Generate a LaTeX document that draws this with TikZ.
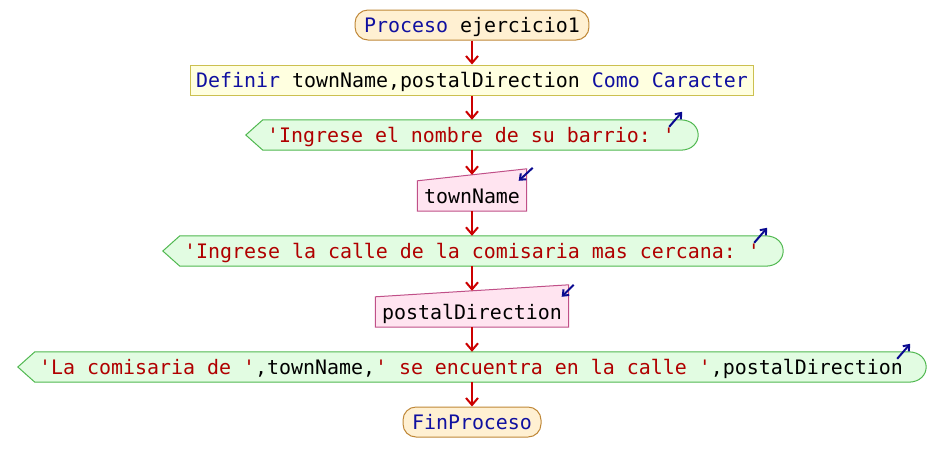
\documentclass[tikz,border=0pt]{standalone}
\usepackage{fontspec}
\setmonofont{DejaVu Sans Mono}
\usetikzlibrary{arrows.meta,backgrounds}

\definecolor{kw}{HTML}{1010A0}
\definecolor{str}{HTML}{B00000}
\definecolor{flowred}{HTML}{CC0000}
\definecolor{termfill}{HTML}{FFF0D2}
\definecolor{termline}{HTML}{C08838}
\definecolor{deffill}{HTML}{FFFFE0}
\definecolor{defline}{HTML}{CCC050}
\definecolor{outfill}{HTML}{E2FCE2}
\definecolor{outline}{HTML}{50B850}
\definecolor{infill}{HTML}{FFE4F0}
\definecolor{inline}{HTML}{C05088}
\definecolor{ioarrow}{HTML}{0A0A90}

\tikzset{
  code/.style={font=\ttfamily\fontsize{19.93}{24}\selectfont,
    text height=16pt, text depth=2pt, minimum height=30pt,
    inner ysep=0pt, inner xsep=0pt, anchor=center},
  termbox/.style={code, draw=termline, fill=termfill, line width=1pt,
    rounded corners=13pt, inner xsep=9pt},
  defbox/.style={code, draw=defline, fill=deffill, line width=1pt, inner xsep=6pt},
  inbox/.style={code, inner xsep=6.5pt},
  outshape/.style={draw=outline, fill=outfill, line width=1pt},
  inshape/.style={draw=inline, fill=infill, line width=1pt},
  flow/.style={draw=flowred, line width=2pt,
    -{Straight Barb[length=7pt,width=12pt]}},
  iomark/.style={draw=ioarrow, line width=2pt,
    -{Straight Barb[length=5pt,width=8pt]}}
}

\newcommand{\kwd}[1]{\textcolor{kw}{#1}}
\newcommand{\str}[1]{\textcolor{str}{#1}}

\begin{document}
\begin{tikzpicture}[x=1pt,y=-1pt]
\useasboundingbox (0,0) rectangle (944,472);

% process start and definitions
\node[termbox] (n0) at (472,25) {\kwd{Proceso} ejercicio1};
\node[defbox] (n1) at (472,80) {\kwd{Definir} townName,postalDirection \kwd{Como} \kwd{Caracter}};

% output and input statements
\node[code] (n2) at (471,135) {\str{'Ingrese el nombre de su barrio: '}};
\node[inbox] (n3) at (472,196) {townName};
\node[code] (n4) at (472,251) {\str{'Ingrese la calle de la comisaria mas cercana: '}};
\node[inbox] (n5) at (472,312) {postalDirection};
\node[code] (n6) at (471,367) {\str{'La comisaria de '},townName,\str{' se encuentra en la calle '},postalDirection};

% process end
\node[termbox] (n7) at (472,422) {\kwd{FinProceso}};

% slanted tops of the input boxes
\coordinate (n3top) at ([yshift=6pt]n3.north);
\coordinate (n5top) at ([yshift=6pt]n5.north);

\begin{scope}[on background layer]
  \fill[white] (0,0) rectangle (944,472);
  \foreach \o in {n2,n4,n6} {
    \draw[outshape] ([xshift=-21pt]\o.west) -- ([xshift=-4pt]\o.north west)
      -- ([xshift=5pt]\o.north east)
      .. controls ([xshift=29pt]\o.north east) and ([xshift=29pt]\o.south east)
      .. ([xshift=5pt]\o.south east)
      -- ([xshift=-4pt]\o.south west) -- cycle;
  }
  \foreach \i in {n3,n5} {
    \draw[inshape] (\i.north west) -- ([yshift=12pt]\i.north east)
      -- (\i.south east) -- (\i.south west) -- cycle;
  }
\end{scope}

% output markers
\foreach \o in {n2,n4,n6} {
  \draw[iomark] ([xshift=-6pt,yshift=-7pt]\o.north east) -- ([xshift=7pt,yshift=8pt]\o.north east);
}
% input markers
\draw[iomark] ([xshift=6pt,yshift=13pt]n3.north east) -- ([xshift=-8pt]n3.north east);
\draw[iomark] ([xshift=5pt,yshift=12pt]n5.north east) -- ([xshift=-7pt]n5.north east);

% flow connectors
\draw[flow] (n0.south) -- (n1.north);
\draw[flow] (n1.south) -- (n1.south |- n2.north);
\draw[flow] (n1.south |- n2.south) -- (n3top);
\draw[flow] (n3.south) -- (n3.south |- n4.north);
\draw[flow] (n3.south |- n4.south) -- (n5top);
\draw[flow] (n5.south) -- (n5.south |- n6.north);
\draw[flow] (n5.south |- n6.south) -- (n7.north);
\end{tikzpicture}
\end{document}
